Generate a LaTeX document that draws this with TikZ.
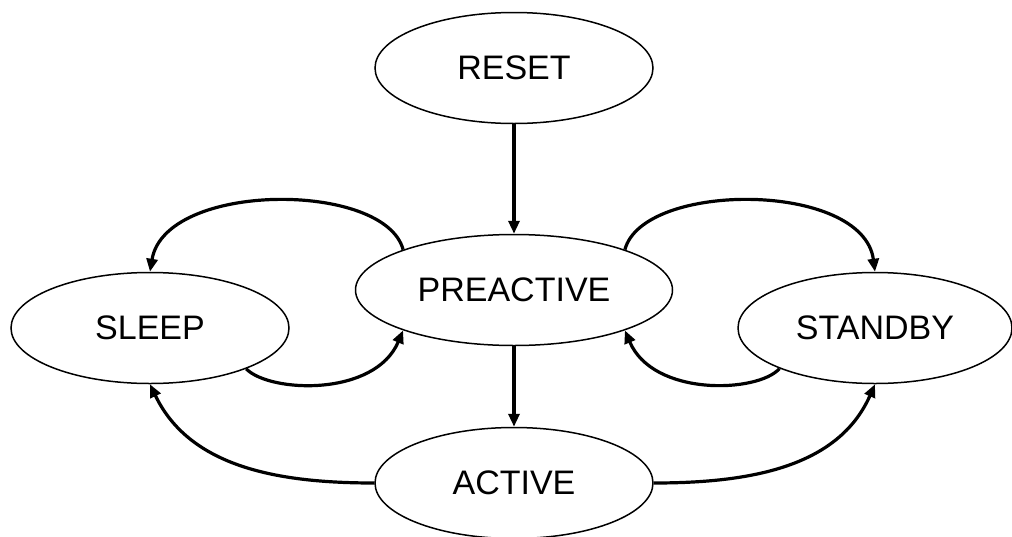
\documentclass[tikz,border=0pt]{standalone}
\usepackage{fontspec}
\setmainfont{Liberation Sans}
\usetikzlibrary{shapes.geometric,arrows.meta}
\begin{document}
\begin{tikzpicture}[x=1pt,y=-1pt,
  state/.style={ellipse,draw,line width=1.5pt,minimum width=278pt,minimum height=111pt,inner sep=0pt,font=\fontsize{34}{40}\selectfont},
  trans/.style={line width=3.2pt,-{Triangle[length=13pt,width=11pt]}}]
\fill[white] (0,0) rectangle (1012,536);
\useasboundingbox (0,0) rectangle (1012,536);
\node[state] (reset) at (514,68) {RESET};
\node[state,minimum width=317pt] (pre) at (514,290) {PREACTIVE};
\node[state] (sleep) at (150,328) {SLEEP};
\node[state,minimum width=274pt] (standby) at (875,328) {STANDBY};
\node[state] (active) at (514,483) {ACTIVE};
\draw[trans] (reset) -- (pre);
\draw[trans] (pre) -- (active);
\draw[trans] (pre.160) .. controls (385,181) and (165,181) .. (sleep.north);
\draw[trans] (sleep.-23) .. controls (270,393) and (375,397) .. (pre.200);
\draw[trans] (active.west) .. controls (280,483) and (190,468) .. (sleep.south);
\draw[trans] (pre.20) .. controls (643,181) and (863,181) .. (standby.north);
\draw[trans] (standby.203) .. controls (758,393) and (653,397) .. (pre.-20);
\draw[trans] (active.east) .. controls (748,483) and (838,468) .. (standby.south);
\end{tikzpicture}
\end{document}
